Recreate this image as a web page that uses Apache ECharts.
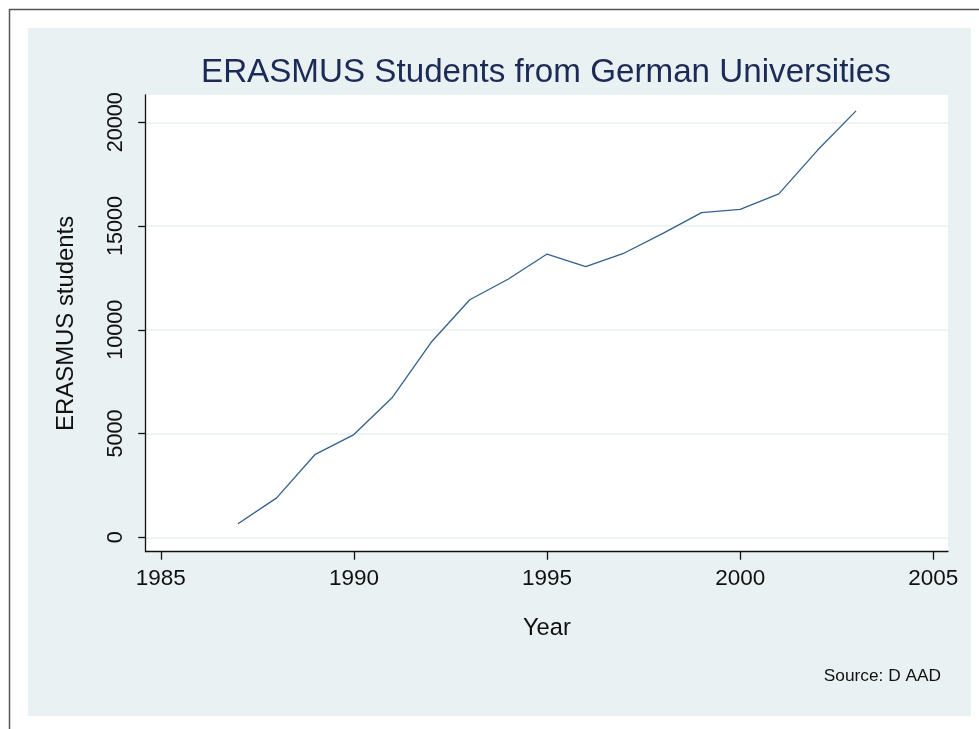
<!DOCTYPE html>
<html>
<head>
<meta charset="utf-8">
<script src="https://cdn.jsdelivr.net/npm/echarts@6/dist/echarts.min.js"></script>
<style>
  html, body { margin: 0; padding: 0; background: #fff; }
  #main { width: 979px; height: 729px; }
</style>
</head>
<body>
<div id="main"></div>
<script>
// ERASMUS students sent out by German universities
var years = [1987, 1988, 1989, 1990, 1991, 1992, 1993, 1994, 1995,
             1996, 1997, 1998, 1999, 2000, 2001, 2002, 2003];
var students = [650, 1900, 4000, 4950, 6750, 9400, 11450, 12450, 13650,
                13050, 13700, 14650, 15650, 15800, 16550, 18650, 20550];
var xTicks = [1985, 1990, 1995, 2000, 2005];
var yTicks = [0, 5000, 10000, 15000, 20000];

var font = "'Liberation Sans', Arial, sans-serif";
var chart = echarts.init(document.getElementById("main"));

var points = years.map(function (y, i) { return [y, students[i]]; });

var option = {
  backgroundColor: "#fff",
  animation: false,
  title: {
    text: "ERASMUS Students from German Universities",
    left: 201,
    top: 56,
    padding: 0,
    textStyle: { color: "#1c2b56", fontFamily: font, fontSize: 33.2, fontWeight: "normal" }
  },
  graphic: [
    // outer frame (only left/top edges fall inside the picture)
    { type: "rect", z: -2, silent: true,
      shape: { x: 9.5, y: 9.5, width: 1200, height: 1200 },
      style: { fill: "#fff", stroke: "#555", lineWidth: 1.5 } },
    // light bluish graph region
    { type: "rect", z: -1, silent: true,
      shape: { x: 28, y: 28, width: 943, height: 688 },
      style: { fill: "#eaf1f3" } },
    { type: "text", silent: true, x: 941, y: 676,
      style: { text: "Source: D AAD", fill: "#111", font: "17.3px " + font,
               textAlign: "right", textVerticalAlign: "middle" } }
  ],
  grid: {
    left: 145.7, right: 31, top: 95, bottom: 177.3,
    show: true, backgroundColor: "#fff", borderWidth: 0
  },
  xAxis: {
    type: "value",
    min: 1984.61, max: 2005.38,
    name: "Year", nameLocation: "middle", nameGap: 65,
    nameTextStyle: { color: "#111", fontFamily: font, fontSize: 23.7 },
    axisLine: { show: true, onZero: false, lineStyle: { color: "#111", width: 1.3 } },
    axisTick: { show: true, length: 8, customValues: xTicks,
                lineStyle: { color: "#111", width: 1.3 } },
    axisLabel: { customValues: xTicks, margin: 16, color: "#111",
                 fontFamily: font, fontSize: 22.5,
                 formatter: function (v) { return String(v); } },
    splitLine: { show: false }
  },
  yAxis: {
    type: "value",
    min: -694, max: 21316,
    name: "ERASMUS students", nameLocation: "middle", nameGap: 67, nameRotate: 90,
    nameTextStyle: { color: "#111", fontFamily: font, fontSize: 23.9 },
    axisLine: { show: true, onZero: false, lineStyle: { color: "#111", width: 1.3 } },
    axisTick: { show: true, length: 7.5, customValues: yTicks,
                lineStyle: { color: "#111", width: 1.3 } },
    axisLabel: { customValues: yTicks, rotate: 90, margin: 19, color: "#111",
                 fontFamily: font, fontSize: 21.6,
                 formatter: function (v) { return String(v); } },
    splitLine: { show: true, lineStyle: { color: "#e8eff1", width: 1.5 } }
  },
  series: [{
    type: "line",
    data: points,
    symbol: "none",
    lineStyle: { color: "#34608c", width: 1.3 }
  }]
};

chart.setOption(option);
</script>
</body>
</html>
